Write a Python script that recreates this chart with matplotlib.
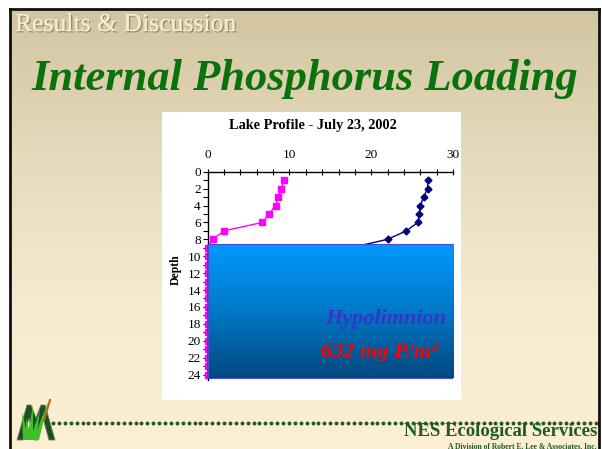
import numpy as np
import matplotlib
matplotlib.use('Agg')
import matplotlib.pyplot as plt
from matplotlib.patches import Rectangle, Polygon
from matplotlib.colors import LinearSegmentedColormap
import matplotlib.patheffects as pe

plt.rcParams['font.family'] = ['Liberation Serif', 'DejaVu Serif']

# lake profile, July 23 2002
do_depth = list(range(1, 25))
do_mgl = [9.35, 9.0, 8.65, 8.3, 7.5, 6.7, 2.0, 0.6, 0, 0, 0, 0,
          0, 0, 0, 0, 0, 0, 0, 0, 0, 0, 0, 0]
temp_depth = list(range(1, 10))
temp_c = [26.9, 26.9, 26.4, 26.0, 25.9, 25.7, 24.3, 22.0, 17.5]
hypo_top = 8.6
hypo_bottom = 24.4
hypo_load = 632

W, H = 602, 449
fig = plt.figure(figsize=(W / 100, H / 100), dpi=100)

# slide background
bg = fig.add_axes([0, 0, 1, 1])
bg.set_xlim(0, W)
bg.set_ylim(H, 0)
bg.axis('off')
slide_cmap = LinearSegmentedColormap.from_list(
    'slide', ['#d3c5a1', '#e5dabd', '#f7ead0', '#fcefd3'])
grad = np.linspace(0, 1, 256).reshape(-1, 1)
bg.imshow(grad, cmap=slide_cmap, extent=[10, 599, H + 5, 9], aspect='auto', zorder=0)
bg.plot([10, 10], [H + 5, 9], color='#111111', lw=2, zorder=3)
bg.plot([10, 599], [9, 9], color='#111111', lw=2, zorder=3)
bg.plot([599, 599], [9, H + 5], color='#111111', lw=2, zorder=3)

bg.text(15, 25, 'Results & Discussion', fontsize=18.5, color='#f6ecd4',
        va='center', ha='left',
        path_effects=[pe.withSimplePatchShadow(offset=(1, -1), shadow_rgbFace='#8a7a55', alpha=0.8),
                      pe.Normal()])
bg.text(305, 79, 'Internal Phosphorus Loading', fontsize=32, color='#0a720a',
        fontweight='bold', fontstyle='italic', va='center', ha='center')

# white chart panel
bg.add_patch(Rectangle((162, 112), 299, 288, facecolor='white', edgecolor='none', zorder=1))
bg.text(313, 126, 'Lake Profile - July 23, 2002', fontsize=10.3, fontweight='bold',
        ha='center', va='center', zorder=2)

# footer
dots_x = np.arange(53, 600, 5.9)
bg.plot(dots_x, np.full(len(dots_x), 422.5), ls='none', marker='o', ms=1.8,
        color='#1f5a1f', zorder=2)
bg.text(597, 432, 'NES Ecological Services', fontsize=13.5, fontweight='bold',
        color='#1f5a1f', ha='right', va='center')
bg.text(597, 446, 'A Division of Robert E. Lee & Associates, Inc.', fontsize=5.5,
        fontweight='bold', color='#1f5a1f', ha='right', va='center')

# grass logo
bg.add_patch(Polygon([[17, 440], [27, 405], [31, 405], [36, 418], [41, 405], [45, 405],
                      [55, 440], [49, 440], [43, 418], [38, 440], [34, 440], [29, 418], [23, 440]],
                     closed=True, facecolor='#1e4d1e', edgecolor='#777777', lw=0.6, zorder=2))
for bx, tx, ty in [(26, 22, 412), (30, 33, 404), (33, 40, 410), (36, 48, 402), (29, 26, 418)]:
    bg.add_patch(Polygon([[bx - 3, 440], [tx, ty], [bx + 3, 440]], closed=True,
                         facecolor='#3fbf2a', edgecolor='none', zorder=3))
bg.plot([44, 50], [420, 400], color='#b06a20', lw=1.5, zorder=3)

# profile plot
ax = fig.add_axes([207.7 / W, 1 - 380 / H, (453 - 207.7) / W, (380 - 171.7) / H])
ax.set_facecolor('none')

ax.plot(do_mgl, do_depth, color='#ff00ff', lw=1, marker='s', ms=4.5, clip_on=False, zorder=2)
ax.plot(temp_c, temp_depth, color='#000080', lw=1, marker='D', ms=3.5, clip_on=False, zorder=2)

# hypolimnion block
hypo_cmap = LinearSegmentedColormap.from_list('hypo', ['#0099ff', '#0078c8', '#00497e'])
ax.imshow(grad, cmap=hypo_cmap, extent=[0, 30, hypo_bottom, hypo_top], aspect='auto', zorder=3)
ax.add_patch(Rectangle((0, hypo_top), 30, hypo_bottom - hypo_top, facecolor='none',
                       edgecolor='#4a4ad0', lw=0.8, zorder=4))
ax.set_xlim(0, 30)
ax.set_ylim(24.65, 0)

ax.text(29.1, 17.4, 'Hypolimnion', fontsize=16, fontweight='bold', fontstyle='italic',
        color='#3535c8', ha='right', va='center', zorder=5)
ax.text(28.1, 21.3, '%d mg P/m³' % hypo_load, fontsize=16, fontweight='bold',
        fontstyle='italic', color='#ff0000', ha='right', va='center', zorder=5)

for s in ['right', 'bottom']:
    ax.spines[s].set_visible(False)
ax.spines['top'].set_linewidth(1)
ax.spines['left'].set_linewidth(1)
ax.xaxis.tick_top()
ax.set_xticks([0, 10, 20, 30])
ax.set_xticks(np.arange(0, 31, 2), minor=True)
ax.set_yticks(np.arange(0, 25, 2))
ax.set_yticks(np.arange(1, 25, 2), minor=True)
ax.tick_params(axis='x', which='both', direction='inout', length=5, width=0.8,
               labelsize=9.5, pad=5.5)
ax.tick_params(axis='y', which='both', direction='out', length=3.5, width=0.8,
               labelsize=9.5, pad=1.5)
ax.set_ylabel('Depth', fontsize=8.5, fontweight='bold', labelpad=0)
ax.yaxis.set_label_coords(-0.105, 0.53)

fig.savefig('out.png', dpi=100)
